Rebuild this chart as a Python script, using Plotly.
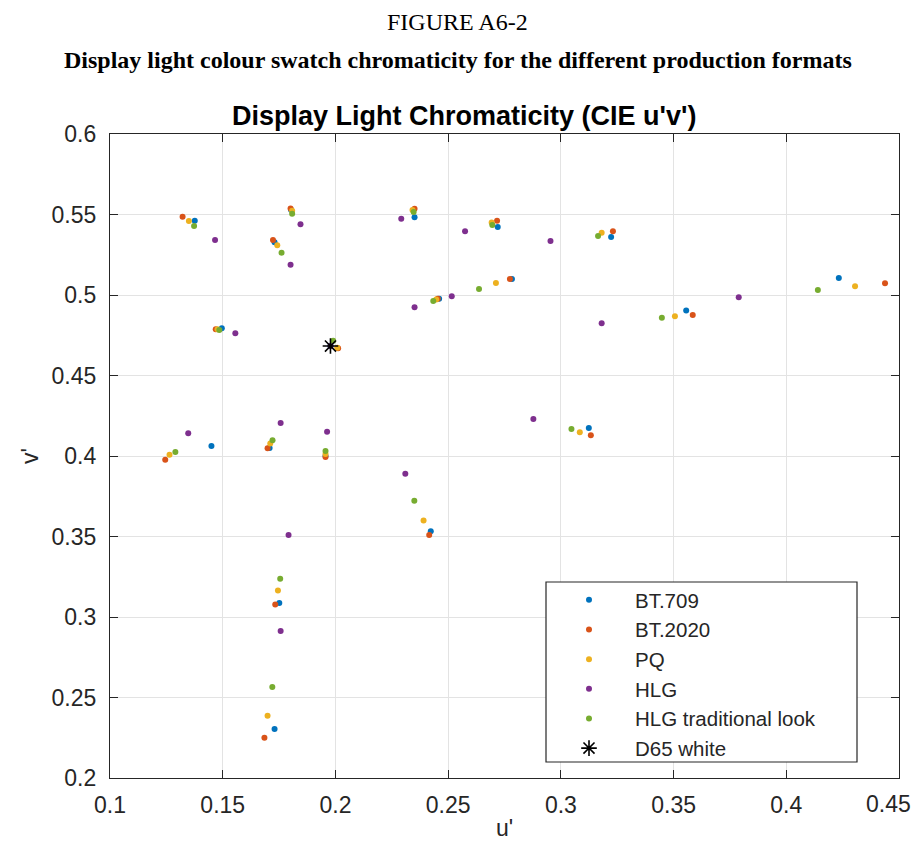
import plotly.graph_objects as go

series_names = ["BT.709", "BT.2020", "PQ", "HLG", "HLG traditional look"]
series_colors = ["#0072BD", "#D95319", "#EDB120", "#7E2F8E", "#77AC30"]

bt709_u = [0.1376, 0.1803, 0.1730, 0.1496, 0.1450, 0.1708, 0.1956, 0.2351, 0.2720, 0.3223,
           0.2783, 0.2460, 0.4233, 0.3556, 0.3124, 0.2423, 0.1751, 0.1730, 0.1978]
bt709_v = [0.5461, 0.5530, 0.5327, 0.4793, 0.4062, 0.4050, 0.4000, 0.5483, 0.5422, 0.5360,
           0.5099, 0.4977, 0.5106, 0.4903, 0.4174, 0.3532, 0.3087, 0.2304, 0.4683]

bt2020_u = [0.1322, 0.1801, 0.1723, 0.1469, 0.1245, 0.1699, 0.1956, 0.2351, 0.2717, 0.3231,
            0.2774, 0.2454, 0.4438, 0.3585, 0.3133, 0.2416, 0.1733, 0.1685, 0.2012]
bt2020_v = [0.5486, 0.5538, 0.5342, 0.4787, 0.3977, 0.4048, 0.3994, 0.5536, 0.5461, 0.5396,
            0.5099, 0.4977, 0.5073, 0.4876, 0.4129, 0.3509, 0.3077, 0.2250, 0.4669]

pq_u = [0.1350, 0.1808, 0.1742, 0.1477, 0.1264, 0.1711, 0.1956, 0.2342, 0.2693, 0.3181,
        0.2712, 0.2447, 0.4305, 0.3506, 0.3084, 0.2391, 0.1745, 0.1699, 0.2008]
pq_v = [0.5460, 0.5524, 0.5309, 0.4787, 0.4008, 0.4077, 0.4012, 0.5528, 0.5451, 0.5387,
        0.5075, 0.4972, 0.5054, 0.4868, 0.4147, 0.3600, 0.3164, 0.2387, 0.4672]

hlg_u = [0.1466, 0.1845, 0.1801, 0.1556, 0.1347, 0.1757, 0.1963, 0.2292, 0.2575, 0.2954,
         0.2516, 0.2351, 0.3789, 0.3181, 0.2878, 0.2310, 0.1792, 0.1757, 0.1978]
hlg_v = [0.5342, 0.5439, 0.5188, 0.4762, 0.4141, 0.4205, 0.4151, 0.5474, 0.5396, 0.5335,
         0.4992, 0.4924, 0.4986, 0.4824, 0.4230, 0.3890, 0.3510, 0.2913, 0.4683]

hlgtrad_u = [0.1373, 0.1808, 0.1761, 0.1485, 0.1290, 0.1721, 0.1956, 0.2347, 0.2696, 0.3165,
             0.2637, 0.2434, 0.4140, 0.3448, 0.3047, 0.2350, 0.1755, 0.1720, 0.1990]
hlgtrad_v = [0.5429, 0.5505, 0.5263, 0.4783, 0.4025, 0.4098, 0.4031, 0.5516, 0.5435, 0.5366,
             0.5037, 0.4963, 0.5031, 0.4859, 0.4168, 0.3722, 0.3238, 0.2565, 0.4716]

d65_u = [0.1978]
d65_v = [0.4683]

x_ticks = [0.1, 0.15, 0.2, 0.25, 0.3, 0.35, 0.4, 0.45]
x_tick_labels = ["0.1", "0.15", "0.2", "0.25", "0.3", "0.35", "0.4", "0.45"]
y_ticks = [0.2, 0.25, 0.3, 0.35, 0.4, 0.45, 0.5, 0.55, 0.6]
y_tick_labels = ["0.2", "0.25", "0.3", "0.35", "0.4", "0.45", "0.5", "0.55", "0.6"]

all_u = [bt709_u, bt2020_u, pq_u, hlg_u, hlgtrad_u]
all_v = [bt709_v, bt2020_v, pq_v, hlg_v, hlgtrad_v]

fig = go.Figure()
for i, (name, col) in enumerate(zip(series_names, series_colors)):
    fig.add_trace(go.Scatter(
        x=all_u[i], y=all_v[i], mode="markers", name=name, legendgroup=name,
        marker=dict(color=col, size=6, line=dict(width=0)),
    ))
fig.add_trace(go.Scatter(
    x=d65_u, y=d65_v, mode="markers", name="D65 white", legendgroup="d65",
    marker=dict(symbol="asterisk-open", color="black", size=13, line=dict(color="black", width=1.6)),
))

# The page body has an 8px margin; work in page coordinates and convert.
OFF = 8
W, H = 922 - 2 * OFF, 850 - 2 * OFF
PL, PR, PT, PB = 110, 899, 134, 778          # plot area in page pixels
L, T = PL - OFF, PT - OFF
R, B = W - (PR - OFF), H - (PB - OFF)
pw, ph = W - L - R, H - T - B

def px_x(px):
    return (px - PL) / pw

def px_y(py):
    return (PB - py) / ph

FONT = "Liberation Sans, Arial"
TICK_FONT = dict(family=FONT, size=23, color="#262626")
axis_common = dict(
    showline=True, linecolor="#262626", linewidth=1.2, mirror="ticks",
    ticks="inside", ticklen=8, tickcolor="#262626", tickwidth=1,
    showgrid=True, gridcolor="#e3e3e3", gridwidth=1, zeroline=False,
    automargin=False,
    tickfont=TICK_FONT,
)

# last x tick label is placed as an annotation so it is not clipped at the page edge
x_ticktext_axis = x_tick_labels[:-1] + [""]

fig.update_xaxes(range=[0.1, 0.45], tickvals=x_ticks, ticktext=x_ticktext_axis,
                 ticklabelstandoff=6,
                 **axis_common)
fig.update_yaxes(range=[0.2, 0.6], tickvals=y_ticks, ticktext=y_tick_labels,
                 ticklabelstandoff=8,
                 title=dict(text="v'", font=dict(family=FONT, size=23, color="#262626"), standoff=6),
                 **axis_common)

# legend frame
fig.add_shape(type="rect", xref="paper", yref="paper",
              x0=px_x(546), x1=px_x(857), y0=px_y(762), y1=px_y(582),
              line=dict(color="#262626", width=1.2), fillcolor="white", layer="above")

fig.update_layout(
    width=W, height=H,
    margin=dict(l=L, r=R, t=T, b=B),
    plot_bgcolor="white", paper_bgcolor="white",
    showlegend=True,
    legend=dict(
        x=px_x(543), y=px_y(580), xanchor="left", yanchor="top",
        bgcolor="rgba(0,0,0,0)", borderwidth=0,
        font=dict(family=FONT, size=20.5, color="#262626"),
        tracegroupgap=0, itemwidth=82, itemsizing="trace",
    ),
    annotations=[
        dict(text="FIGURE A6-2", xref="paper", yref="paper", x=px_x(457), y=px_y(22),
             xanchor="center", yanchor="middle", showarrow=False,
             font=dict(family="Liberation Serif, Times New Roman", size=24, color="black")),
        dict(text="<b>Display light colour swatch chromaticity for the different production formats</b>",
             xref="paper", yref="paper", x=px_x(458), y=px_y(60),
             xanchor="center", yanchor="middle", showarrow=False,
             font=dict(family="Liberation Serif, Times New Roman", size=24, color="black")),
        dict(text="<b>Display Light Chromaticity (CIE u'v')</b>",
             xref="paper", yref="paper", x=px_x(464), y=px_y(116),
             xanchor="center", yanchor="middle", showarrow=False,
             font=dict(family=FONT, size=27, color="black")),
        dict(text=x_tick_labels[-1], xref="x", yref="paper", x=x_ticks[-1], y=px_y(804),
             xanchor="right", yanchor="middle", xshift=14, showarrow=False,
             font=TICK_FONT),
        dict(text="u'", xref="paper", yref="paper", x=px_x(504), y=px_y(828),
             xanchor="center", yanchor="middle", showarrow=False,
             font=dict(family=FONT, size=23, color="#262626")),
    ],
)

fig.write_html("out.html")
